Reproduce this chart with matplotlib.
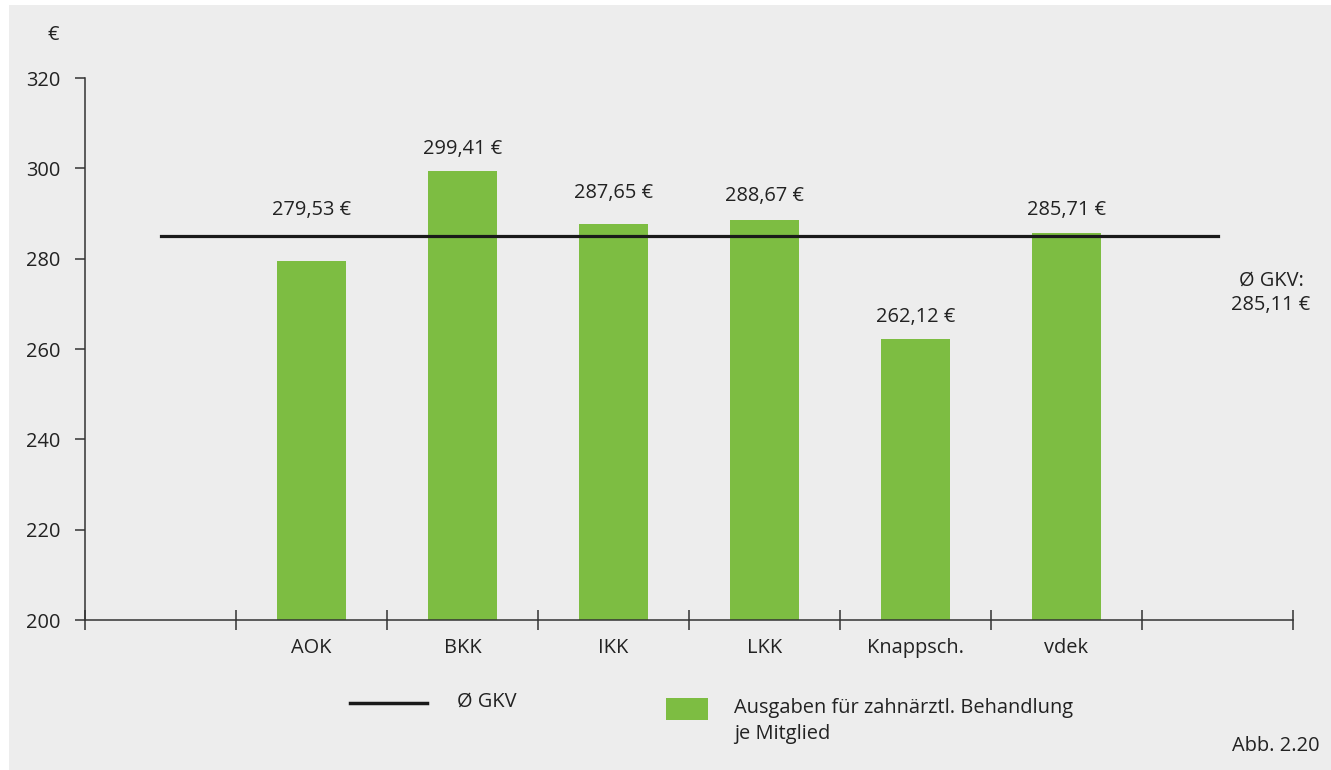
import matplotlib
matplotlib.use("Agg")
import matplotlib.pyplot as plt
from matplotlib.patches import Rectangle
from matplotlib.lines import Line2D

categories = ["", "AOK", "BKK", "IKK", "LKK", "Knappsch.", "vdek", ""]
values = [None, 279.53, 299.41, 287.65, 288.67, 262.12, 285.71, None]
value_labels = ["", "279,53 €", "299,41 €", "287,65 €", "288,67 €", "262,12 €", "285,71 €", ""]
mean_value = 285.11
mean_label = "Ø GKV:\n285,11 €"
yticks = [200, 220, 240, 260, 280, 300, 320]

BG = "#ededed"
GREEN = "#7dbd42"
TXT = "#222222"
plt.rcParams["font.family"] = ["Open Sans", "DejaVu Sans"]
FS = 14.4

W, H = 1331, 770
fig = plt.figure(figsize=(W / 100, H / 100), dpi=100)
fig.patch.set_facecolor("white")
fig.add_artist(Rectangle((9 / W, 0), 1 - 9 / W, 1 - 5 / H, transform=fig.transFigure,
                         facecolor=BG, edgecolor="none", zorder=-10))

ax = fig.add_axes([85 / W, 1 - 620 / H, (1293 - 85) / W, (620 - 78) / H])
ax.set_facecolor("none")

n = len(categories)
xs = list(range(n))
bar_x = [x for x, v in zip(xs, values) if v is not None]
bar_v = [v for v in values if v is not None]
ax.bar(bar_x, [v - 200 for v in bar_v], bottom=200, width=0.46, color=GREEN, zorder=2)

ax.plot([0, n - 1], [mean_value, mean_value], color="#1a1a1a", lw=2.3, zorder=3)

ax.set_xlim(-0.5, n - 0.5)
ax.set_ylim(200, 320)
ax.set_yticks(yticks)
ax.set_yticklabels([str(t) for t in yticks], fontsize=FS, color=TXT)
ax.set_xticks([x + 0.5 for x in range(-1, n)])
ax.set_xticklabels([])
ax.tick_params(axis="x", direction="inout", length=14, width=1.1, color="#333333")
ax.tick_params(axis="y", direction="out", length=7, width=1.1, color="#333333", pad=10.5)
for x, c in zip(xs, categories):
    if c:
        ax.annotate(c, (x, 200), xytext=(0, -28), textcoords="offset pixels",
                    ha="center", va="center", fontsize=FS, color=TXT)

for s in ["top", "right"]:
    ax.spines[s].set_visible(False)
for s in ["left", "bottom"]:
    ax.spines[s].set_linewidth(1.1)
    ax.spines[s].set_color("#333333")

pad_px = [0, 26, 22, 31, 24, 22, 23, 0]
for x, v, lab, p in zip(xs, values, value_labels, pad_px):
    if v is None:
        continue
    # labels of bars just below the mean line sit above the line
    base = mean_value if (v < mean_value and mean_value - v < 10) else v
    ax.annotate(lab, (x, base), xytext=(0, p), textcoords="offset pixels",
                ha="center", va="center", fontsize=FS, color=TXT)

fig.text(1271 / W, 1 - 293 / H, mean_label, ha="center", va="center",
         fontsize=FS, color=TXT, linespacing=1.3)
fig.text(53 / W, 1 - 35 / H, "€", ha="center", va="center", fontsize=FS, color=TXT)

fig.add_artist(Line2D([350 / W, 427 / W], [1 - 703 / H, 1 - 703 / H],
                      transform=fig.transFigure, color="#1a1a1a", lw=2.5))
fig.text(457 / W, 1 - 702 / H, "Ø GKV", ha="left", va="center", fontsize=FS, color=TXT)
fig.add_artist(Rectangle((666 / W, 1 - 720 / H), 42 / W, 22 / H, transform=fig.transFigure,
                         facecolor=GREEN, edgecolor="none"))
fig.text(734 / W, 1 - 721 / H, "Ausgaben für zahnärztl. Behandlung\nje Mitglied", ha="left",
         va="center", fontsize=FS, color=TXT, linespacing=1.4)
fig.text(1320 / W, 1 - 746 / H, "Abb. 2.20", ha="right", va="center", fontsize=FS, color=TXT)

fig.savefig("out.png", dpi=100, facecolor=fig.get_facecolor())
